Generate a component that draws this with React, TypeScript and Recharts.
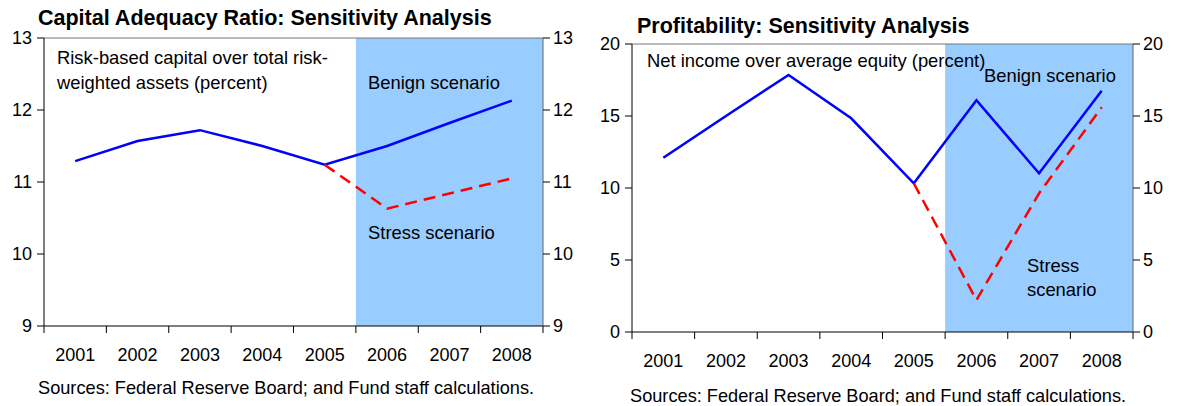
import React from "react";
import {
  LineChart,
  Line,
  XAxis,
  YAxis,
  ReferenceArea,
  ReferenceLine,
} from "recharts";

const years = ["2001", "2002", "2003", "2004", "2005", "2006", "2007", "2008"];

// Capital adequacy ratio (percent)
const carBenign = [11.29, 11.57, 11.72, 11.5, 11.24, 11.5, 11.82, 12.13];
const carStress = [null, null, null, null, 11.24, 10.63, 10.84, 11.05];
const carTicks = [9, 10, 11, 12, 13];

// Return on equity (percent)
const roeBenign = [12.1, 15.0, 17.85, 14.84, 10.33, 16.1, 11.02, 16.76];
const roeStress = [null, null, null, null, 10.33, 2.22, 9.63, 15.6];
const roeTicks = [0, 5, 10, 15, 20];

const FONT = "Arial, 'Liberation Sans', sans-serif";
const SHADE = "#99ccff";

const xTicks = [-0.5, 0, 0.5, 1, 1.5, 2, 2.5, 3, 3.5, 4, 4.5, 5, 5.5, 6, 6.5, 7, 7.5];

function XTick(props: any) {
  const { x, y, payload } = props;
  const v = payload.value;
  if (Number.isInteger(v)) {
    return (
      <text
        x={x}
        y={y + 29}
        textAnchor="middle"
        dominantBaseline="central"
        fontSize={18}
        fontFamily={FONT}
        fill="#000"
      >
        {years[v]}
      </text>
    );
  }
  return <line x1={x} x2={x} y1={y} y2={y + 7} stroke="#000" strokeWidth={1} />;
}

function buildRows(benign: number[], stress: (number | null)[]) {
  return years.map((_, i) => ({ i, benign: benign[i], stress: stress[i] }));
}

interface PanelProps {
  benign: number[];
  stress: (number | null)[];
  ticks: number[];
  top: number;
  width: number;
}

function Panel({ benign, stress, ticks, top, width }: PanelProps) {
  const rows = buildRows(benign, stress);
  const lo = ticks[0];
  const hi = ticks[ticks.length - 1];
  const tickStyle = { fill: "#000", fontSize: 18, fontFamily: FONT };
  return (
    <LineChart
      width={width}
      height={406}
      data={rows}
      margin={{ top, right: 0, bottom: 406 - top - 288 - 30, left: 0 }}
    >
      <ReferenceArea
        x1={4.5}
        x2={7.5}
        y1={lo}
        y2={hi}
        yAxisId="l"
        fill={SHADE}
        fillOpacity={1}
        stroke="none"
      />
      <XAxis
        dataKey="i"
        type="number"
        domain={[-0.5, 7.5]}
        ticks={xTicks}
        interval={0}
        tickSize={0}
        tickMargin={0}
        tickLine={false}
        tick={<XTick />}
        axisLine={{ stroke: "#000" }}
        height={30}
        allowDataOverflow
      />
      <YAxis
        yAxisId="l"
        domain={[lo, hi]}
        ticks={ticks}
        width={44}
        tick={tickStyle}
        tickSize={7}
        tickMargin={5}
        tickLine={{ stroke: "#000" }}
        axisLine={{ stroke: "#000" }}
      />
      <YAxis
        yAxisId="r"
        orientation="right"
        domain={[lo, hi]}
        ticks={ticks}
        width={44}
        tick={{ ...tickStyle, textAnchor: "start" }}
        tickSize={7}
        tickMargin={3}
        tickLine={{ stroke: "#000" }}
        axisLine={{ stroke: "#666" }}
      />
      <ReferenceLine y={hi} yAxisId="l" stroke="#777" strokeWidth={1} />
      <Line
        yAxisId="l"
        dataKey="benign"
        stroke="#0000ff"
        strokeWidth={2.5}
        dot={false}
        isAnimationActive={false}
      />
      <Line
        yAxisId="r"
        dataKey="stress"
        stroke="#ff0000"
        strokeWidth={2.5}
        strokeDasharray="12 7"
        dot={false}
        isAnimationActive={false}
      />
    </LineChart>
  );
}

export default function App() {
  const txt = { fontFamily: FONT, fill: "#000" } as const;
  return (
    <div
      style={{
        position: "absolute",
        left: 0,
        top: 0,
        width: 1177,
        height: 406,
        background: "#fff",
        overflow: "hidden",
      }}
    >
      <div style={{ position: "absolute", left: 0, top: 0 }}>
        <Panel benign={carBenign} stress={carStress} ticks={carTicks} top={38} width={587} />
      </div>
      <div style={{ position: "absolute", left: 588, top: 0 }}>
        <Panel benign={roeBenign} stress={roeStress} ticks={roeTicks} top={44} width={589} />
      </div>
      <svg
        width={1177}
        height={406}
        style={{ position: "absolute", left: 0, top: 0, pointerEvents: "none" }}
      >
        <g {...txt} dominantBaseline="central">
          <text x={38} y={18} fontSize={21.5} fontWeight="bold">
            Capital Adequacy Ratio: Sensitivity Analysis
          </text>
          <text x={57} y={57} fontSize={18.4}>Risk-based capital over total risk-</text>
          <text x={57} y={82} fontSize={18.4}>weighted assets (percent)</text>
          <text x={368} y={82} fontSize={18.4}>Benign scenario</text>
          <text x={368} y={232} fontSize={18.4}>Stress scenario</text>
          <text x={38} y={388} fontSize={18.2}>
            Sources: Federal Reserve Board; and Fund staff calculations.
          </text>

          <text x={637} y={26} fontSize={21.5} fontWeight="bold">
            Profitability: Sensitivity Analysis
          </text>
          <text x={647} y={60} fontSize={18.4}>Net income over average equity (percent)</text>
          <text x={984} y={75} fontSize={18.4}>Benign scenario</text>
          <text x={1027} y={265} fontSize={18.4}>Stress</text>
          <text x={1027} y={289} fontSize={18.4}>scenario</text>
          <text x={630} y={396} fontSize={18.2}>
            Sources: Federal Reserve Board; and Fund staff calculations.
          </text>
        </g>
      </svg>
    </div>
  );
}
